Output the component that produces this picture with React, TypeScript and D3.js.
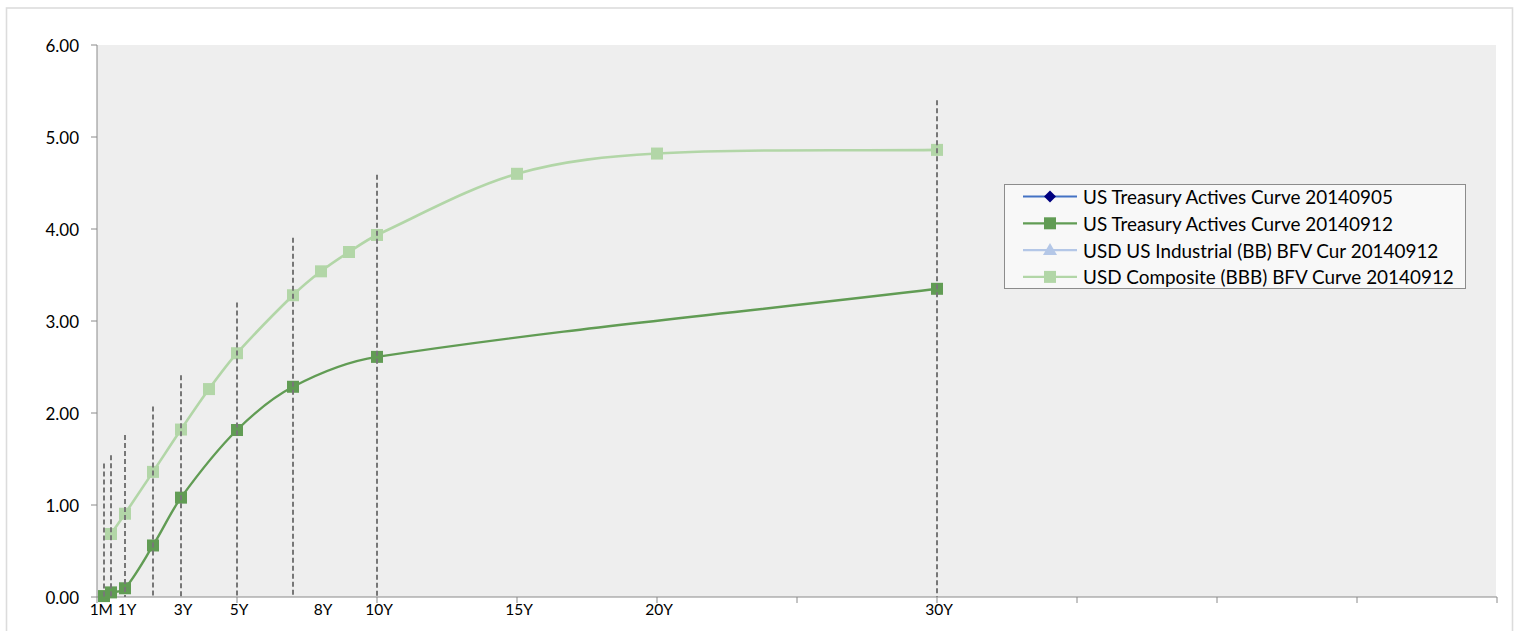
import React from "react";
import * as d3 from "d3";

// Tenors in years
const treasuryTenors = [0.25, 0.5, 1, 2, 3, 5, 7, 10, 30];
const treasuryValues = [0.01, 0.05, 0.095, 0.56, 1.08, 1.815, 2.285, 2.61, 3.35];

const compositeTenors = [0.5, 1, 2, 3, 4, 5, 7, 8, 9, 10, 15, 20, 30];
const compositeValues = [0.685, 0.905, 1.36, 1.82, 2.26, 2.65, 3.28, 3.54, 3.75, 3.935, 4.6, 4.82, 4.86];

const dropTenors = [0.25, 0.5, 1, 2, 3, 5, 7, 10, 30];
const dropTops = [1.45, 1.54, 1.76, 2.07, 2.41, 3.2, 3.905, 4.59, 5.4];

const xLabelTenors = [1 / 12, 1, 3, 5, 8, 10, 15, 20, 30];
const xLabels = ["1M", "1Y", "3Y", "5Y", "8Y", "10Y", "15Y", "20Y", "30Y"];

const xTickValues = [0, 5, 10, 15, 20, 25, 30, 35, 40, 45, 50];
const yTickValues = [0, 1, 2, 3, 4, 5, 6];

const legendLabels = [
  "US Treasury Actives Curve 20140905",
  "US Treasury Actives Curve 20140912",
  "USD US Industrial (BB) BFV Cur 20140912",
  "USD Composite (BBB) BFV Curve 20140912",
];

const C_TREAS = "#619C54";
const C_COMP = "#B2D6A7";
const C_T05_LINE = "#4472C4";
const C_T05_MARK = "#00007F";
const C_IND = "#B4C7E7";
const FONT = "Lato, 'Noto Sans', sans-serif";

// Smooth curve: cubic Hermite with central-difference tangents (pixel space)
function smoothPath(pts: [number, number][]): string {
  const p = d3.path();
  const n = pts.length;
  if (n === 0) return "";
  const m: number[] = pts.map((pt, i) => {
    if (i === 0) return (pts[1][1] - pt[1]) / (pts[1][0] - pt[0]);
    if (i === n - 1) return (pt[1] - pts[i - 1][1]) / (pt[0] - pts[i - 1][0]);
    return (pts[i + 1][1] - pts[i - 1][1]) / (pts[i + 1][0] - pts[i - 1][0]);
  });
  p.moveTo(pts[0][0], pts[0][1]);
  for (let i = 0; i < n - 1; i++) {
    const [x0, y0] = pts[i];
    const [x1, y1] = pts[i + 1];
    const h = (x1 - x0) / 3;
    p.bezierCurveTo(x0 + h, y0 + m[i] * h, x1 - h, y1 - m[i + 1] * h, x1, y1);
  }
  return p.toString();
}

export default function App() {
  const x = d3.scaleLinear().domain([0, 50]).range([97, 1497]);
  const y = d3.scaleLinear().domain([0, 6]).range([597, 45]);

  const treas: [number, number][] = treasuryTenors.map((t, i) => [t, treasuryValues[i]]);
  const comp: [number, number][] = compositeTenors.map((t, i) => [t, compositeValues[i]]);
  const toPx = (arr: [number, number][]) => arr.map((d) => [x(d[0]), y(d[1])] as [number, number]);

  const ms = 12;
  const lgX = 1004;
  const lgY = 184;
  const lgRow = (i: number) => lgY + 12.5 + i * 26.8;

  return (
    <svg
      width={1518}
      height={631}
      style={{ position: "absolute", left: 0, top: 0, background: "#fff" }}
      fontFamily={FONT}
    >
      <rect x={6.5} y={8} width={1506} height={640} fill="#fff" stroke="#DCDCDC" strokeWidth={1.6} />
      {/* plot area */}
      <rect x={x(0)} y={y(6)} width={x(50) - x(0) - 1} height={y(0) - y(6)} fill="#EEEEEE" />

      {/* axes */}
      <line x1={x(0)} x2={x(0)} y1={y(6)} y2={y(0)} stroke="#8A8A8A" strokeWidth={1} />
      <line x1={x(0)} x2={x(50)} y1={y(0)} y2={y(0)} stroke="#8A8A8A" strokeWidth={1} />
      {yTickValues.map((v) => (
        <g key={"yt" + v}>
          <line x1={x(0) - 6} x2={x(0)} y1={y(v)} y2={y(v)} stroke="#8A8A8A" strokeWidth={1} />
          <text
            x={79}
            y={y(v)}
            textAnchor="end"
            dominantBaseline="central"
            fontSize={17}
            fill="#000"
          >
            {d3.format(".2f")(v)}
          </text>
        </g>
      ))}
      {xTickValues.map((v) => (
        <line key={"xt" + v} x1={x(v)} x2={x(v)} y1={y(0)} y2={y(0) + 6} stroke="#8A8A8A" strokeWidth={1} />
      ))}
      {xLabelTenors.map((t, i) => (
        <text key={"xl" + i} x={x(t) + 2} y={615} textAnchor="middle" fontSize={15.5} fill="#000">
          {xLabels[i]}
        </text>
      ))}

      {/* composite */}
      <path d={smoothPath(toPx(comp))} fill="none" stroke={C_COMP} strokeWidth={2.6} />
      {comp.map((d, i) => (
        <rect key={"cm" + i} x={x(d[0]) - ms / 2} y={y(d[1]) - ms / 2} width={ms} height={ms} fill={C_COMP} />
      ))}

      {/* treasury */}
      <path d={smoothPath(toPx(treas))} fill="none" stroke={C_TREAS} strokeWidth={2.4} />
      {treas.map((d, i) => (
        <rect key={"tm" + i} x={x(d[0]) - ms / 2} y={y(d[1]) - ms / 2} width={ms} height={ms} fill={C_TREAS} />
      ))}

      {/* dashed drop lines */}
      {dropTenors.map((t, i) => (
        <line
          key={"dl" + i}
          x1={x(t)}
          x2={x(t)}
          y1={y(dropTops[i])}
          y2={y(0)}
          stroke="#777777"
          strokeWidth={2}
          strokeDasharray="5,3"
        />
      ))}

      {/* legend */}
      <rect x={lgX + 0.5} y={lgY + 0.5} width={461} height={104} fill="#F8F8F8" stroke="#8C8C8C" strokeWidth={1} />
      {legendLabels.map((lab, i) => {
        const cy = lgRow(i);
        const lx1 = 1023;
        const lx2 = 1077;
        const mx = 1050;
        const lineColor = [C_T05_LINE, C_TREAS, C_IND, C_COMP][i];
        let marker: React.ReactNode = null;
        if (i === 0) {
          marker = (
            <path
              d={`M${mx},${cy - 6}L${mx + 6},${cy}L${mx},${cy + 6}L${mx - 6},${cy}Z`}
              fill={C_T05_MARK}
            />
          );
        } else if (i === 1) {
          marker = <rect x={mx - 6} y={cy - 6} width={12} height={12} fill={C_TREAS} />;
        } else if (i === 2) {
          marker = (
            <path d={`M${mx},${cy - 7}L${mx + 7},${cy + 5}L${mx - 7},${cy + 5}Z`} fill={C_IND} />
          );
        } else {
          marker = <rect x={mx - 6} y={cy - 6} width={12} height={12} fill={C_COMP} />;
        }
        return (
          <g key={"lg" + i}>
            <line x1={lx1} x2={lx2} y1={cy} y2={cy} stroke={lineColor} strokeWidth={2.2} />
            {marker}
            <text x={1083} y={cy} dominantBaseline="central" fontSize={18.9} fill="#000">
              {lab}
            </text>
          </g>
        );
      })}
    </svg>
  );
}
